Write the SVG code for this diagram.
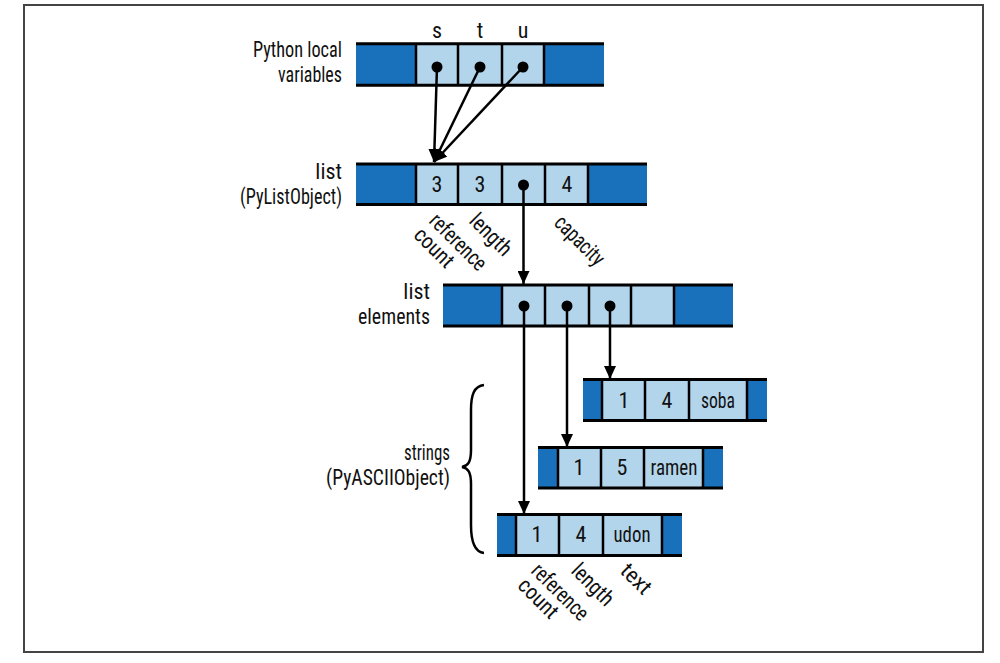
<svg xmlns="http://www.w3.org/2000/svg" width="1000" height="663" viewBox="0 0 1000 663">
<style>
text{font-family:"Liberation Sans Narrow","Roboto Condensed","DejaVu Sans Condensed","Liberation Sans",sans-serif;font-size:22px;fill:#111}
.r{text-anchor:end}
.m{text-anchor:middle}
.dk{fill:#1a71bb}
.lt{fill:#b3d5eb}
.hl{stroke:#000;stroke-width:3;fill:none}
.vl{stroke:#000;stroke-width:2.5;fill:none}
.dot{fill:#000}
.con{stroke:#000;stroke-width:2.5;fill:none;marker-end:url(#ah)}
</style>
<defs>
<marker id="ah" viewBox="0 0 13 12" refX="13" refY="6" markerWidth="13" markerHeight="12" markerUnits="userSpaceOnUse" orient="auto">
<path d="M0,0 L13,6 L0,12 Z" fill="#000"/>
</marker>
</defs>
<rect x="24" y="5" width="959" height="647" fill="#fff" stroke="#444" stroke-width="2"/>

<g id="locals">
<rect class="dk" x="356" y="44" width="248" height="41"/>
<rect class="lt" x="416" y="44" width="128" height="41"/>
<path class="vl" d="M416,44V85M458,44V85M502,44V85M544,44V85"/>
<path class="hl" d="M356,43.7H604M356,85.3H604"/>
<circle class="dot" cx="437" cy="67" r="5.5"/>
<circle class="dot" cx="480" cy="67" r="5.5"/>
<circle class="dot" cx="523" cy="67" r="5.5"/>
<text class="r" x="342" y="57" textLength="89" lengthAdjust="spacingAndGlyphs">Python local</text>
<text class="r" x="342" y="82" textLength="64" lengthAdjust="spacingAndGlyphs">variables</text>
<text class="m" x="437" y="38">s</text>
<text class="m" x="480" y="38">t</text>
<text class="m" x="523" y="38">u</text>
</g>

<g id="list">
<rect class="dk" x="356" y="164" width="291" height="41"/>
<rect class="lt" x="416" y="164" width="172" height="41"/>
<path class="vl" d="M416,164V205M458,164V205M502,164V205M545,164V205M588,164V205"/>
<path class="hl" d="M356,164H647M356,204.5H647"/>
<text class="m" x="437" y="192">3</text>
<text class="m" x="480" y="192">3</text>
<circle class="dot" cx="523.5" cy="185" r="5.5"/>
<text class="m" x="567" y="192">4</text>
<text class="r" x="342" y="179">list</text>
<text class="r" x="342" y="204" textLength="102" lengthAdjust="spacingAndGlyphs">(PyListObject)</text>
<g transform="translate(428,222) rotate(45)"><text x="0" y="0" textLength="71" lengthAdjust="spacingAndGlyphs">reference</text><text x="-1" y="21" textLength="47" lengthAdjust="spacingAndGlyphs">count</text></g>
<text transform="translate(468,222) rotate(45)" textLength="50" lengthAdjust="spacingAndGlyphs">length</text>
<text transform="translate(553,224) rotate(45)" textLength="61" lengthAdjust="spacingAndGlyphs">capacity</text>
</g>

<g id="elements">
<rect class="dk" x="443" y="285" width="290" height="41"/>
<rect class="lt" x="502" y="285" width="172" height="41"/>
<path class="vl" d="M502,285V326M545,285V326M589,285V326M631,285V326M674,285V326"/>
<path class="hl" d="M443,285H733M443,326H733"/>
<circle class="dot" cx="524" cy="306" r="5.5"/>
<circle class="dot" cx="567" cy="306" r="5.5"/>
<circle class="dot" cx="610" cy="306" r="5.5"/>
<text class="r" x="430" y="299">list</text>
<text class="r" x="430" y="324" textLength="72" lengthAdjust="spacingAndGlyphs">elements</text>
</g>

<g id="soba">
<rect class="dk" x="583" y="380" width="184" height="41"/>
<rect class="lt" x="602" y="380" width="145" height="41"/>
<path class="vl" d="M602,380V421M645,380V421M689,380V421M747,380V421"/>
<path class="hl" d="M583,379.5H767M583,420.5H767"/>
<text class="m" x="624" y="408">1</text>
<text class="m" x="667" y="408">4</text>
<text class="m" x="718" y="408" textLength="34" lengthAdjust="spacingAndGlyphs">soba</text>
</g>

<g id="ramen">
<rect class="dk" x="538" y="447.5" width="185" height="40.5"/>
<rect class="lt" x="558" y="447.5" width="145" height="40.5"/>
<path class="vl" d="M558,447.5V488M601,447.5V488M644,447.5V488M703,447.5V488"/>
<path class="hl" d="M538,447.5H723M538,488H723"/>
<text class="m" x="579" y="475">1</text>
<text class="m" x="622" y="475">5</text>
<text class="m" x="674" y="475" textLength="47" lengthAdjust="spacingAndGlyphs">ramen</text>
</g>

<g id="udon">
<rect class="dk" x="497" y="514.5" width="185" height="41"/>
<rect class="lt" x="516" y="514.5" width="146" height="41"/>
<path class="vl" d="M516,514.5V555.5M559,514.5V555.5M603,514.5V555.5M662,514.5V555.5"/>
<path class="hl" d="M497,514.5H682M497,555.5H682"/>
<text class="m" x="537" y="542">1</text>
<text class="m" x="581" y="542">4</text>
<text class="m" x="632" y="542" textLength="37" lengthAdjust="spacingAndGlyphs">udon</text>
<g transform="translate(530,572) rotate(45)"><text x="0" y="0" textLength="71" lengthAdjust="spacingAndGlyphs">reference</text><text x="1" y="20" textLength="47" lengthAdjust="spacingAndGlyphs">count</text></g>
<text transform="translate(570,572) rotate(45)" textLength="50" lengthAdjust="spacingAndGlyphs">length</text>
<text transform="translate(619,572) rotate(45)" textLength="34" lengthAdjust="spacingAndGlyphs">text</text>
</g>

<g id="strings">
<path d="M484,385 C474,386 471,395 471,410 L471,450 C471,462 468,466 462,467 C468,468 471,472 471,484 L471,525 C471,540 474,552 484,553" stroke="#000" stroke-width="2.5" fill="none"/>
<text class="r" x="450" y="460" textLength="46" lengthAdjust="spacingAndGlyphs">strings</text>
<text class="r" x="450" y="485" textLength="124" lengthAdjust="spacingAndGlyphs">(PyASCIIObject)</text>
</g>

<g id="connectors">
<line class="con" x1="437" y1="67" x2="434" y2="162"/>
<line class="con" x1="480" y1="67" x2="434" y2="162"/>
<line class="con" x1="523" y1="67" x2="434" y2="162"/>
<line class="con" x1="523.5" y1="185" x2="523.5" y2="284"/>
<line class="con" x1="524" y1="306" x2="524" y2="514"/>
<line class="con" x1="567" y1="306" x2="567" y2="447"/>
<line class="con" x1="610" y1="306" x2="610" y2="379"/>
</g>
</svg>
